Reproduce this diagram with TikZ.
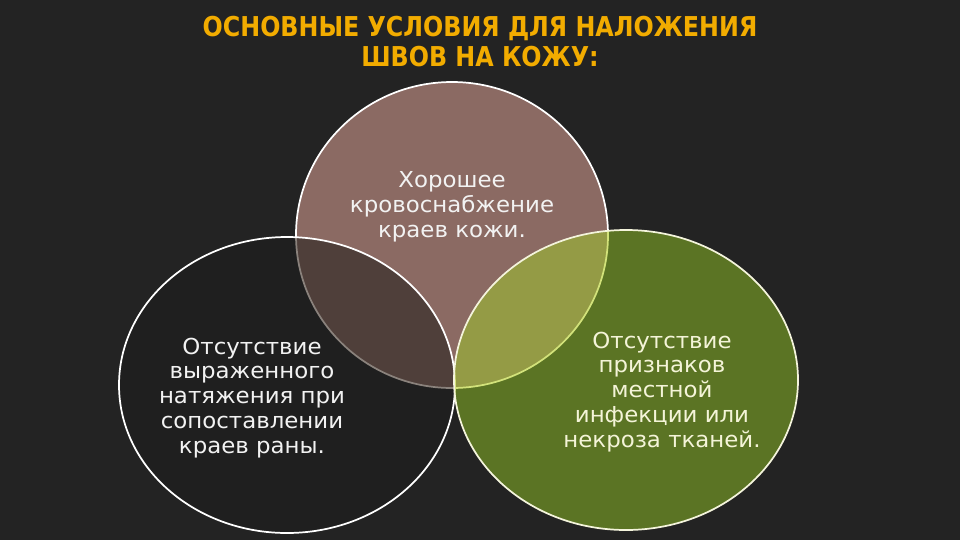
\documentclass[tikz,border=0pt]{standalone}
\usepackage{fontspec}
\newfontfamily\bodyfont[FakeStretch=1.04]{DejaVu Sans}
\newfontfamily\titlefont[FakeStretch=0.87]{DejaVu Sans}
\definecolor{bg}{HTML}{232323}
\definecolor{topc}{HTML}{8B6A63}
\definecolor{leftc}{HTML}{1F1F1F}
\definecolor{tlc}{HTML}{4F3F3A}
\definecolor{rightc}{HTML}{5B7424}
\definecolor{trc}{HTML}{949B45}
\definecolor{titlec}{HTML}{F2AC00}
\definecolor{graylinec}{HTML}{8A827C}
\definecolor{greenlinec}{HTML}{D2E27A}
\definecolor{creamc}{HTML}{F4F4DC}
\definecolor{textc}{HTML}{F2F2F2}
\definecolor{textr}{HTML}{F4F4D8}
\tikzset{
  outline/.style={line width=1.3pt},
  bodytext/.style={align=center, inner sep=0pt, font=\bodyfont\fontsize{16.5}{18.7}\selectfont},
  titletext/.style={align=center, inner sep=0pt, text=titlec, font=\titlefont\bfseries\fontsize{20.5}{22.5}\selectfont}
}
\begin{document}
\begin{tikzpicture}[x=0.75pt,y=-0.75pt]
\fill[bg] (0,0) rectangle (960,540);
\useasboundingbox (0,0) rectangle (960,540);
% top circle
\fill[topc] (452,235) ellipse [x radius=156, y radius=153];
\draw[white, outline] (452,235) ellipse [x radius=156, y radius=153];
% left circle
\fill[leftc] (287,385) ellipse [x radius=168, y radius=148];
\begin{scope}
  \clip (287,385) ellipse [x radius=168, y radius=148];
  \fill[tlc] (452,235) ellipse [x radius=156, y radius=153];
  \draw[graylinec, outline] (452,235) ellipse [x radius=156, y radius=153];
\end{scope}
\draw[white, outline] (287,385) ellipse [x radius=168, y radius=148];
% right circle
\fill[rightc] (626,380) ellipse [x radius=172, y radius=150];
\begin{scope}
  \clip (626,380) ellipse [x radius=172, y radius=150];
  \fill[trc] (452,235) ellipse [x radius=156, y radius=153];
  \draw[greenlinec, outline] (452,235) ellipse [x radius=156, y radius=153];
  \draw[greenlinec, outline] (287,385) ellipse [x radius=168, y radius=148];
\end{scope}
\draw[creamc, outline] (626,380) ellipse [x radius=172, y radius=150];
% texts
\node[titletext] (title) at (480,42) {ОСНОВНЫЕ УСЛОВИЯ ДЛЯ НАЛОЖЕНИЯ\\ШВОВ НА КОЖУ:};
\node[bodytext, text=textc] (ttop) at (452,207) {Хорошее\\кровоснабжение\\краев кожи.};
\node[bodytext, text=textc] (tleft) at (252,398) {Отсутствие\\выраженного\\натяжения при\\сопоставлении\\краев раны.};
\node[bodytext, text=textr] (tright) at (662,392) {Отсутствие\\признаков\\местной\\инфекции или\\некроза тканей.};
\end{tikzpicture}
\end{document}
